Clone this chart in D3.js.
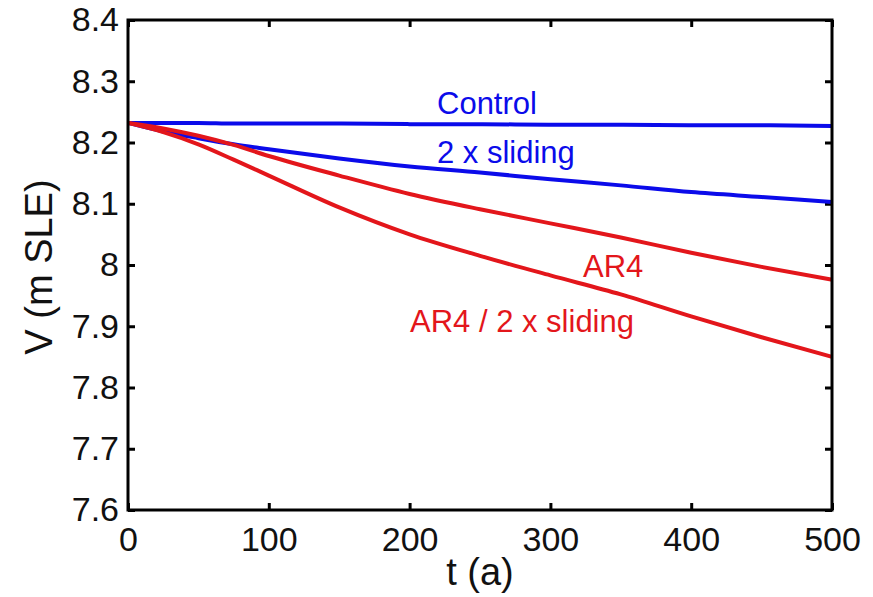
<!DOCTYPE html>
<html>
<head>
<meta charset="utf-8">
<script src="https://cdn.jsdelivr.net/npm/d3@7"></script>
<style>
  body { margin: 0; background: #fff; }
  svg { display: block; font-family: "Liberation Sans", Arial, Helvetica, sans-serif; }
</style>
</head>
<body>
<svg id="chart" width="873" height="597"></svg>
<script>
// time axis (a)
let years = [0, 25, 50, 75, 100, 150, 200, 250, 300, 350, 400, 450, 500];

// ice volume, m SLE
let control   = [8.232, 8.232, 8.232, 8.231, 8.231, 8.231, 8.230, 8.230, 8.229, 8.229, 8.228, 8.228, 8.227];
let sliding2x = [8.232, 8.218, 8.207, 8.197, 8.189, 8.174, 8.161, 8.151, 8.140, 8.130, 8.119, 8.111, 8.103];
let ar4       = [8.232, 8.223, 8.211, 8.196, 8.178, 8.146, 8.116, 8.091, 8.068, 8.045, 8.020, 7.997, 7.976];
let ar4sliding= [8.232, 8.217, 8.197, 8.172, 8.146, 8.094, 8.050, 8.015, 7.983, 7.952, 7.916, 7.882, 7.850];

let xTicks = [0, 100, 200, 300, 400, 500];
let yTicks = [7.6, 7.7, 7.8, 7.9, 8.0, 8.1, 8.2, 8.3, 8.4];

let series = [
    {name: "Control", values: control, color: "#0b0bea", lx: 437, ly: 114},
    {name: "2 x sliding", values: sliding2x, color: "#0b0bea", lx: 437, ly: 163},
    {name: "AR4", values: ar4, color: "#e3161b", lx: 583, ly: 277},
    {name: "AR4 / 2 x sliding", values: ar4sliding, color: "#e3161b", lx: 410, ly: 332}
];

let margin = {left: 128, top: 20, right: 41, bottom: 87};
let width = 873, height = 597;
let w = width - margin.left - margin.right;
let h = height - margin.top - margin.bottom;

let svg = d3.select("#chart");
let g = svg.append("g").attr("transform", `translate(${margin.left},${margin.top})`);

let x = d3.scaleLinear().domain([0, 500]).range([0, w]);
let y = d3.scaleLinear().domain([7.6, 8.4]).range([h, 0]);

let fmt = d => d === 8 ? "8" : d3.format(".1f")(d);

// оси с внутренними засечками
let axisB = d3.axisBottom(x).tickValues(xTicks).tickSize(-7).tickPadding(17).tickFormat(d3.format("d"));
let axisT = d3.axisTop(x).tickValues(xTicks).tickSize(-7).tickFormat("");
let axisL = d3.axisLeft(y).tickValues(yTicks).tickSize(-7).tickPadding(9).tickFormat(fmt);
let axisR = d3.axisRight(y).tickValues(yTicks).tickSize(-7).tickFormat("");

function styleAxis(sel) {
    sel.select(".domain").remove();
    sel.selectAll("line").attr("stroke", "#000").attr("stroke-width", 3);
    sel.selectAll("text").attr("fill", "#111").style("font-size", "34px");
}

g.append("g").attr("transform", `translate(0,${h})`).call(axisB).call(styleAxis);
g.append("g").call(axisT).call(styleAxis);
g.append("g").call(axisL).call(styleAxis);
g.append("g").attr("transform", `translate(${w},0)`).call(axisR).call(styleAxis);

// линии данных
let line = d3.line()
    .x((d, i) => x(years[i]))
    .y(d => y(d))
    .curve(d3.curveMonotoneX);

g.selectAll(".series")
    .data(series)
    .enter()
    .append("path")
    .attr("class", "series")
    .attr("d", s => line(s.values))
    .attr("fill", "none")
    .attr("stroke", s => s.color)
    .attr("stroke-width", 4);

// рамка
g.append("rect")
    .attr("width", w).attr("height", h)
    .attr("fill", "none")
    .attr("stroke", "#000")
    .attr("stroke-width", 3);

// подписи кривых
svg.selectAll(".lbl")
    .data(series)
    .enter()
    .append("text")
    .attr("class", "lbl")
    .attr("x", s => s.lx)
    .attr("y", s => s.ly)
    .attr("fill", s => s.color)
    .style("font-size", "31px")
    .text(s => s.name);

// заголовки осей
svg.append("text")
    .attr("x", margin.left + w / 2)
    .attr("y", 585)
    .attr("text-anchor", "middle")
    .attr("fill", "#111")
    .style("font-size", "38px")
    .text("t (a)");

svg.append("text")
    .attr("transform", "translate(52,267) rotate(-90)")
    .attr("text-anchor", "middle")
    .attr("fill", "#111")
    .style("font-size", "38px")
    .text("V (m SLE)");
</script>
</body>
</html>
